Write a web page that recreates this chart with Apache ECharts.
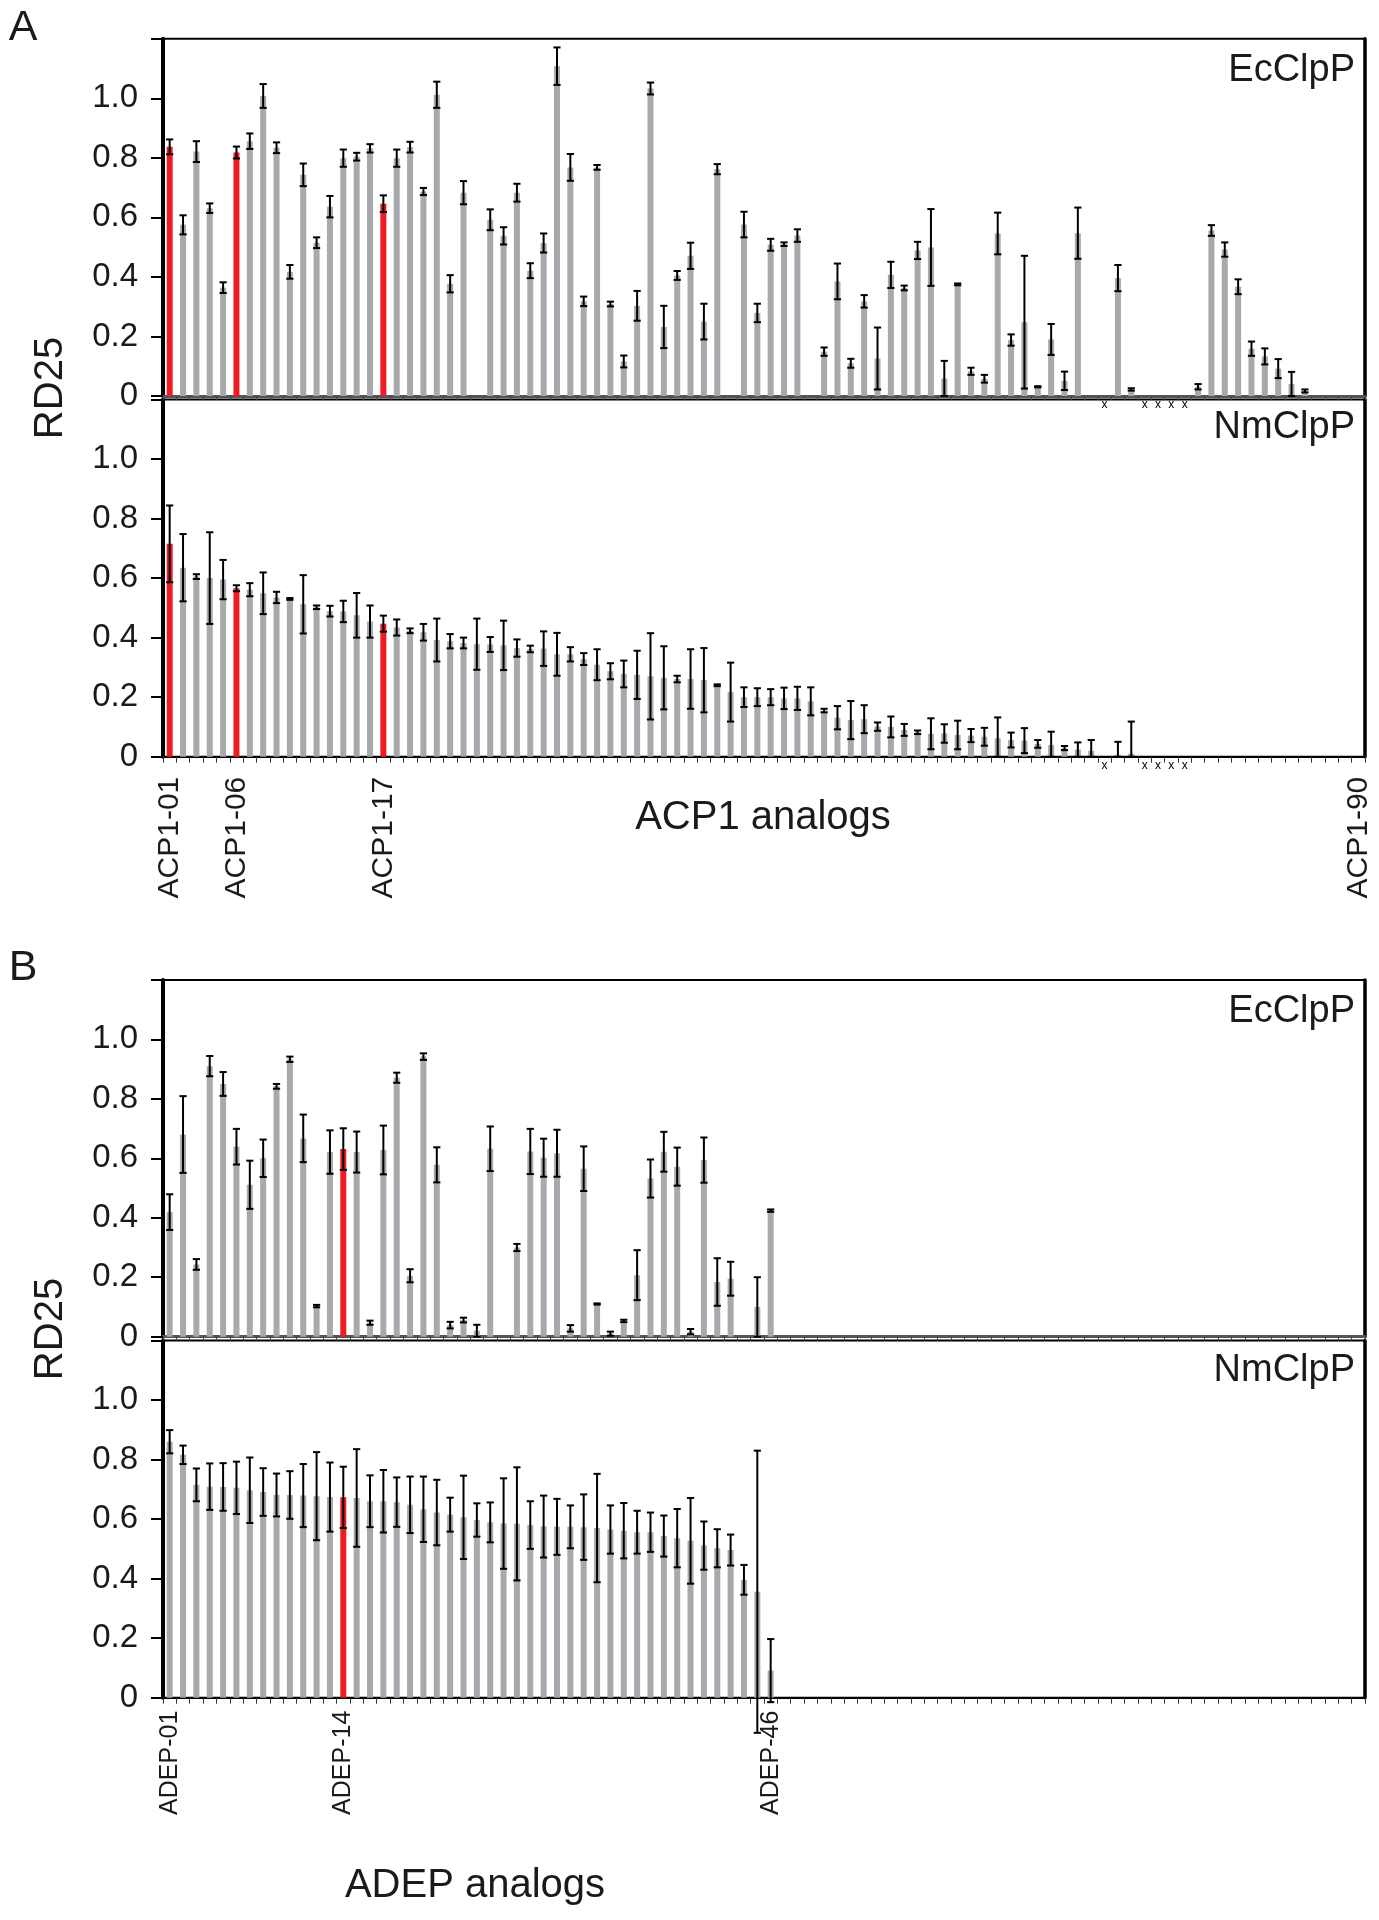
<!DOCTYPE html>
<html>
<head>
<meta charset="utf-8">
<script src="https://cdn.jsdelivr.net/npm/echarts@6/dist/echarts.min.js"></script>
<style>
html,body{margin:0;padding:0;background:#fff;}
#chart{width:1379px;height:1920px;}
</style>
</head>
<body>
<div id="chart"></div>
<script>
// ---------------- DATA ----------------
const acpCategories = [];
for (let i = 1; i <= 90; i++) acpCategories.push('ACP1-' + String(i).padStart(2, '0'));
const adepCategories = [];
for (let i = 1; i <= 90; i++) adepCategories.push('ADEP-' + String(i).padStart(2, '0'));

const acpShownLabels = ['ACP1-01', 'ACP1-06', 'ACP1-17', 'ACP1-90'];
const adepShownLabels = ['ADEP-01', 'ADEP-14', 'ADEP-46'];

const acpHighlighted = [1, 6, 17];
const adepHighlighted = [14];
const acpNotTested = [71, 74, 75, 76, 77];

const yTicks = [0, 0.2, 0.4, 0.6, 0.8, 1.0];

const acpEcValues = [
  0.837,0.575,0.821,0.631,0.364,0.818,0.856,1.008,0.834,0.417,
  0.743,0.515,0.636,0.799,0.804,0.832,0.646,0.799,0.836,0.687,
  1.012,0.377,0.683,null,0.592,0.538,0.683,0.421,0.514,1.108,
  0.768,0.318,0.768,0.309,0.116,0.303,1.033,0.232,0.405,0.471,
  0.25,0.762,null,0.576,0.279,0.508,0.51,0.539,null,0.149,
  0.385,0.11,0.318,0.126,0.407,0.363,0.489,0.499,0.059,0.375,
  0.083,0.058,0.546,0.188,0.248,0.031,0.19,0.051,0.547,null,
  null,0.396,0.022,null,null,null,null,0.031,0.556,0.492,
  0.367,0.159,0.133,0.092,0.04,0.017,null,null,null,null
];
const acpEcErrors = [
  0.025,0.032,0.035,0.016,0.018,0.02,0.026,0.04,0.018,0.023,
  0.038,0.018,0.036,0.029,0.013,0.014,0.028,0.029,0.018,0.012,
  0.044,0.029,0.039,null,0.035,0.029,0.03,0.025,0.032,0.063,
  0.045,0.016,0.008,0.008,0.02,0.05,0.02,0.071,0.015,0.044,
  0.06,0.017,null,0.043,0.031,0.02,0.006,0.021,null,0.014,
  0.06,0.015,0.021,0.104,0.044,0.008,0.029,0.129,0.059,0.003,
  0.012,0.013,0.07,0.019,0.223,0.002,0.052,0.031,0.086,null,
  null,0.044,0.004,null,null,null,null,0.009,0.018,0.024,
  0.025,0.024,0.027,0.032,0.041,0.005,null,null,null,null
];
const acpNmValues = [
  0.715,0.635,0.605,0.6,0.595,0.566,0.561,0.549,0.535,0.53,
  0.512,0.502,0.489,0.488,0.475,0.454,0.447,0.434,0.423,0.418,
  0.392,0.388,0.382,0.378,0.377,0.374,0.365,0.362,0.363,0.344,
  0.344,0.328,0.309,0.287,0.278,0.275,0.27,0.265,0.261,0.261,
  0.257,0.24,0.217,0.2,0.2,0.2,0.196,0.196,0.186,0.155,
  0.131,0.123,0.126,0.101,0.1,0.09,0.082,0.077,0.078,0.073,
  0.071,0.067,0.062,0.056,0.054,0.043,0.039,0.029,0.024,0.02,
  null,0.005,0.01,null,null,null,null,null,null,null,
  null,null,null,null,null,null,null,null,null,null
];
const acpNmErrors = [
  0.129,0.113,0.008,0.154,0.066,0.01,0.022,0.07,0.019,0.003,
  0.098,0.006,0.018,0.036,0.075,0.054,0.027,0.027,0.008,0.028,
  0.072,0.024,0.018,0.086,0.025,0.083,0.029,0.011,0.058,0.072,
  0.024,0.02,0.052,0.027,0.045,0.081,0.145,0.106,0.011,0.1,
  0.108,0.003,0.099,0.033,0.03,0.027,0.036,0.039,0.047,0.006,
  0.039,0.064,0.047,0.014,0.035,0.02,0.006,0.052,0.031,0.048,
  0.022,0.03,0.07,0.025,0.042,0.013,0.045,0.007,0.024,0.036,
  null,0.045,0.108,null,null,null,null,null,null,null,
  null,null,null,null,null,null,null,null,null,null
];

const adepEcValues = [
  0.419,0.68,0.243,0.91,0.85,0.639,0.511,0.6,0.842,0.933,
  0.667,0.103,0.621,0.631,0.621,0.047,0.628,0.871,0.205,0.942,
  0.578,0.039,0.056,0.02,0.632,null,0.3,0.623,0.602,0.617,
  0.028,0.565,0.11,0.01,0.053,0.207,0.532,0.622,0.572,0.017,
  0.594,0.184,0.195,null,0.1,0.424
];
const adepEcErrors = [
  0.06,0.129,0.018,0.034,0.04,0.06,0.081,0.063,0.008,0.009,
  0.08,0.004,0.073,0.07,0.069,0.007,0.082,0.017,0.022,0.011,
  0.059,0.011,0.008,0.02,0.075,null,0.012,0.076,0.064,0.079,
  0.011,0.075,0.002,0.007,0.004,0.084,0.064,0.067,0.064,0.009,
  0.076,0.08,0.057,null,0.1,0.004
];
const adepNmValues = [
  0.86,0.816,0.715,0.709,0.708,0.705,0.697,0.691,0.681,0.681,
  0.679,0.677,0.674,0.673,0.671,0.66,0.66,0.657,0.648,0.633,
  0.622,0.615,0.606,0.597,0.589,0.585,0.584,0.58,0.575,0.574,
  0.574,0.573,0.57,0.565,0.561,0.556,0.556,0.543,0.536,0.527,
  0.511,0.502,0.496,0.396,0.356,0.091
];
const adepNmErrors = [
  0.039,0.031,0.055,0.078,0.08,0.088,0.11,0.08,0.072,0.08,
  0.106,0.148,0.116,0.103,0.164,0.087,0.105,0.083,0.095,0.11,
  0.11,0.057,0.14,0.056,0.067,0.152,0.19,0.08,0.104,0.094,
  0.072,0.11,0.182,0.081,0.093,0.072,0.066,0.069,0.098,0.144,
  0.081,0.064,0.052,0.05,0.474,0.106
];

// ---------------- STYLE ----------------
const FONT = '"Liberation Sans", Arial, Helvetica, sans-serif';
const GRAY = '#A7A9AC';
const RED = '#ED1C24';
const PLOT_LEFT = 163;
const PLOT_WIDTH = 1202;

const grids = [
  { top: 38.8, height: 357.2 },   // A EcClpP
  { top: 399.5, height: 357.2 },  // A NmClpP
  { top: 979.9, height: 356.8 },  // B EcClpP
  { top: 1340.5, height: 357.2 }  // B NmClpP
];

function barData(values, highlighted) {
  return values.map((v, i) => {
    if (v == null) return '-';
    if (highlighted.includes(i + 1)) return { value: v, itemStyle: { color: RED } };
    return v;
  });
}
function errData(values, errors, clamp) {
  const out = [];
  values.forEach((v, i) => {
    if (v == null || errors[i] == null) return;
    let lo = v - errors[i];
    if (clamp) lo = Math.max(0, lo);
    out.push([i, lo, v + errors[i]]);
  });
  return out;
}
function errRender(params, api) {
  const x = api.value(0);
  const top = api.coord([x, api.value(2)]);
  const bot = api.coord([x, api.value(1)]);
  const hw = 3.6;
  const st = { stroke: '#000', lineWidth: 2 };
  return {
    type: 'group',
    children: [
      { type: 'line', shape: { x1: top[0], y1: top[1], x2: bot[0], y2: bot[1] }, style: st },
      { type: 'line', shape: { x1: top[0] - hw, y1: top[1], x2: top[0] + hw, y2: top[1] }, style: st },
      { type: 'line', shape: { x1: bot[0] - hw, y1: bot[1], x2: bot[0] + hw, y2: bot[1] }, style: st }
    ]
  };
}
function xMarkRender(params, api) {
  const p = api.coord([api.value(0), 0]);
  return {
    type: 'text',
    x: p[0], y: p[1] + 9,
    style: { text: 'x', font: '12px ' + FONT, fill: '#000', align: 'center', verticalAlign: 'middle', textAlign: 'center', textVerticalAlign: 'middle' }
  };
}

const option = {
  animation: false,
  backgroundColor: '#fff',
  grid: grids.map(g => ({
    left: PLOT_LEFT, width: PLOT_WIDTH, top: g.top, height: g.height,
    show: true, borderColor: '#000', borderWidth: 2, backgroundColor: 'transparent'
  })),
  xAxis: grids.map((g, k) => {
    const isBottom = (k % 2 === 1);
    const cats = k < 2 ? acpCategories : adepCategories;
    const shown = k < 2 ? acpShownLabels : adepShownLabels;
    return {
      type: 'category', gridIndex: k, data: cats, boundaryGap: true,
      axisLine: { show: true, lineStyle: { color: isBottom ? '#000' : '#555', width: isBottom ? 2 : 3 } },
      axisTick: { show: true, interval: 0, length: isBottom ? 6 : 4, lineStyle: { color: isBottom ? '#333' : '#444', width: 1 } },
      axisLabel: {
        show: isBottom, interval: 0, rotate: 90, hideOverlap: false,
        margin: k < 2 ? 20 : 13,
        fontFamily: FONT, fontSize: k < 2 ? 30 : 25, color: '#1a1a1a',
        formatter: v => shown.includes(v) ? v : ''
      },
      splitLine: { show: false }
    };
  }),
  yAxis: [].concat(...grids.map((g, k) => [
    {
      type: 'value', gridIndex: k, min: 0, max: 1.2, interval: 0.2, position: 'left',
      axisLine: { show: true, lineStyle: { color: '#000', width: 4 } },
      axisTick: { show: true, length: 12, lineStyle: { color: '#000', width: 2 } },
      axisLabel: {
        margin: 25, fontFamily: FONT, fontSize: 33, color: '#1a1a1a',
        formatter: v => {
          const t = yTicks.find(y => Math.abs(y - v) < 1e-6);
          if (t === undefined) return '';
          return t === 0 ? '0' : t.toFixed(1);
        }
      },
      splitLine: { show: false }
    },
    {
      type: 'value', gridIndex: k, min: 0, max: 1.2, interval: 0.2, position: 'right',
      axisLine: { show: true, lineStyle: { color: '#000', width: 3.5 } },
      axisTick: { show: false }, axisLabel: { show: false }, splitLine: { show: false }
    }
  ])),
  series: [
    { type: 'bar', xAxisIndex: 0, yAxisIndex: 0, barWidth: 6, itemStyle: { color: GRAY }, data: barData(acpEcValues, acpHighlighted) },
    { type: 'custom', xAxisIndex: 0, yAxisIndex: 0, renderItem: errRender, encode: { x: 0, y: [1, 2] }, data: errData(acpEcValues, acpEcErrors, true), z: 5 },
    { type: 'custom', xAxisIndex: 0, yAxisIndex: 0, renderItem: xMarkRender, encode: { x: 0 }, data: acpNotTested.map(n => [n - 1]), z: 5 },

    { type: 'bar', xAxisIndex: 1, yAxisIndex: 2, barWidth: 6, itemStyle: { color: GRAY }, data: barData(acpNmValues, acpHighlighted) },
    { type: 'custom', xAxisIndex: 1, yAxisIndex: 2, renderItem: errRender, encode: { x: 0, y: [1, 2] }, data: errData(acpNmValues, acpNmErrors, true), z: 5 },
    { type: 'custom', xAxisIndex: 1, yAxisIndex: 2, renderItem: xMarkRender, encode: { x: 0 }, data: acpNotTested.map(n => [n - 1]), z: 5 },

    { type: 'bar', xAxisIndex: 2, yAxisIndex: 4, barWidth: 6, itemStyle: { color: GRAY }, data: barData(adepEcValues, adepHighlighted) },
    { type: 'custom', xAxisIndex: 2, yAxisIndex: 4, renderItem: errRender, encode: { x: 0, y: [1, 2] }, data: errData(adepEcValues, adepEcErrors, true), z: 5 },

    { type: 'bar', xAxisIndex: 3, yAxisIndex: 6, barWidth: 6, itemStyle: { color: GRAY }, data: barData(adepNmValues, adepHighlighted) },
    { type: 'custom', xAxisIndex: 3, yAxisIndex: 6, renderItem: errRender, encode: { x: 0, y: [1, 2] }, data: errData(adepNmValues, adepNmErrors, false), z: 5 }
  ],
  graphic: [
    { type: 'text', x: 23, y: 28, style: { text: 'A', font: '43px ' + FONT, fill: '#1a1a1a', align: 'center', verticalAlign: 'middle', textAlign: 'center', textVerticalAlign: 'middle' } },
    { type: 'text', x: 23, y: 968, style: { text: 'B', font: '43px ' + FONT, fill: '#1a1a1a', align: 'center', verticalAlign: 'middle', textAlign: 'center', textVerticalAlign: 'middle' } },
    { type: 'text', x: 51, y: 388, rotation: Math.PI / 2, style: { text: 'RD25', font: '40px ' + FONT, fill: '#1a1a1a', align: 'center', verticalAlign: 'middle', textAlign: 'center', textVerticalAlign: 'middle' } },
    { type: 'text', x: 51, y: 1329, rotation: Math.PI / 2, style: { text: 'RD25', font: '40px ' + FONT, fill: '#1a1a1a', align: 'center', verticalAlign: 'middle', textAlign: 'center', textVerticalAlign: 'middle' } },
    { type: 'text', x: 1355, y: 71, style: { text: 'EcClpP', font: '38px ' + FONT, fill: '#1a1a1a', align: 'right', verticalAlign: 'middle', textAlign: 'right', textVerticalAlign: 'middle' } },
    { type: 'text', x: 1355, y: 428, style: { text: 'NmClpP', font: '38px ' + FONT, fill: '#1a1a1a', align: 'right', verticalAlign: 'middle', textAlign: 'right', textVerticalAlign: 'middle' } },
    { type: 'text', x: 1355, y: 1012, style: { text: 'EcClpP', font: '38px ' + FONT, fill: '#1a1a1a', align: 'right', verticalAlign: 'middle', textAlign: 'right', textVerticalAlign: 'middle' } },
    { type: 'text', x: 1355, y: 1371, style: { text: 'NmClpP', font: '38px ' + FONT, fill: '#1a1a1a', align: 'right', verticalAlign: 'middle', textAlign: 'right', textVerticalAlign: 'middle' } },
    { type: 'text', x: 763, y: 818, style: { text: 'ACP1 analogs', font: '40px ' + FONT, fill: '#1a1a1a', align: 'center', verticalAlign: 'middle', textAlign: 'center', textVerticalAlign: 'middle' } },
    { type: 'text', x: 475, y: 1886, style: { text: 'ADEP analogs', font: '40px ' + FONT, fill: '#1a1a1a', align: 'center', verticalAlign: 'middle', textAlign: 'center', textVerticalAlign: 'middle' } }
  ]
};

const chart = echarts.init(document.getElementById('chart'), null, { renderer: 'canvas' });
chart.setOption(option);
</script>
</body>
</html>
